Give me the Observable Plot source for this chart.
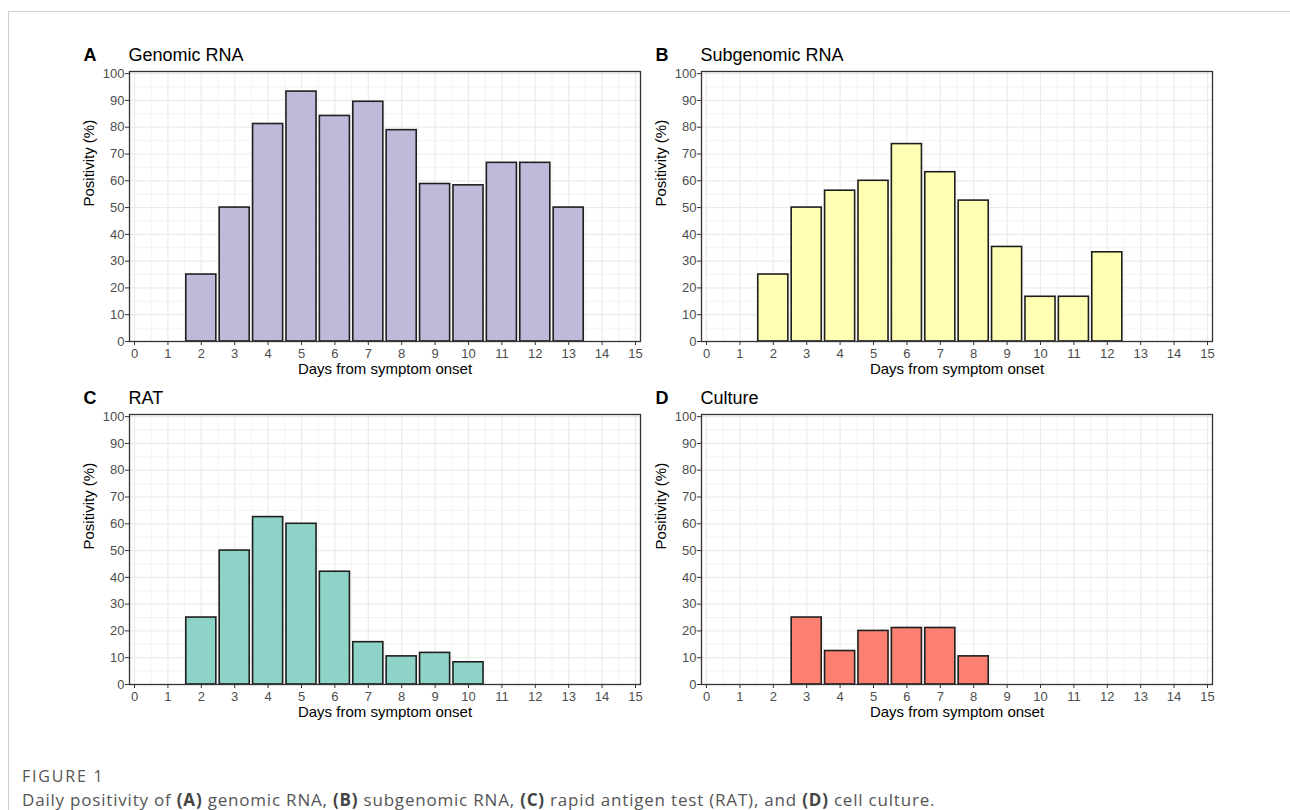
<!DOCTYPE html>
<html>
<head>
<meta charset="utf-8">
<script src="https://cdn.jsdelivr.net/npm/d3@7"></script>
<script src="https://cdn.jsdelivr.net/npm/@observablehq/plot@0.6"></script>
<style>
  html, body { margin: 0; padding: 0; background: #fff; }
  #fig { position: relative; width: 1290px; height: 810px; overflow: hidden; background: #fff; }
  .panel { position: absolute; }
  .panel svg text { font-family: 'Liberation Sans', Arial, Helvetica, sans-serif; }
  .panel svg g[aria-label="x-axis tick label"], .panel svg g[aria-label="y-axis tick label"] { font-size: 13px; font-variant-numeric: normal; }
  #topline { position: absolute; left: 9px; top: 11px; width: 1281px; height: 0; border-top: 1.5px solid #cfcfcf; }
  #leftline { position: absolute; left: 8px; top: 11px; width: 0; height: 800px; border-left: 1.5px solid #cfcfcf; }
  #figlabel { position: absolute; left: 22px; top: 766px; font-family: "Open Sans", sans-serif; font-size: 16px; line-height: 20px; color: #555; letter-spacing: 1.8px; }
  #caption { position: absolute; left: 22px; top: 790px; font-family: "Open Sans", sans-serif; font-size: 17px; line-height: 19px; color: #555; white-space: nowrap; letter-spacing: 0.8px; }
  #caption b { color: #444; }
</style>
</head>
<body>
<div id="fig">
  <div id="topline"></div>
  <div id="leftline"></div>
  <div id="figlabel">FIGURE 1</div>
  <div id="caption">Daily positivity of <b>(A)</b> genomic RNA, <b>(B)</b> subgenomic RNA, <b>(C)</b> rapid antigen test (RAT), and <b>(D)</b> cell culture.</div>
</div>
<script>
// ---- data ----
const panelLetters = ["A", "B", "C", "D"];
const panelTitles = ["Genomic RNA", "Subgenomic RNA", "RAT", "Culture"];
const panelColors = ["#BEBADA", "#FFFFB3", "#8DD3C7", "#FB8072"];

const genomicDays = [2, 3, 4, 5, 6, 7, 8, 9, 10, 11, 12, 13];
const genomic = [25, 50, 81.2, 93.3, 84.2, 89.5, 78.9, 58.8, 58.3, 66.7, 66.7, 50];

const subgenomicDays = [2, 3, 4, 5, 6, 7, 8, 9, 10, 11, 12];
const subgenomic = [25, 50, 56.3, 60, 73.7, 63.2, 52.6, 35.3, 16.7, 16.7, 33.3];

const ratDays = [2, 3, 4, 5, 6, 7, 8, 9, 10];
const rat = [25, 50, 62.5, 60, 42.1, 15.8, 10.5, 11.8, 8.3];

const cultureDays = [3, 4, 5, 6, 7, 8];
const culture = [25, 12.5, 20, 21.1, 21.1, 10.5];

const xTicks = [0, 1, 2, 3, 4, 5, 6, 7, 8, 9, 10, 11, 12, 13, 14, 15];
const yTicks = [0, 10, 20, 30, 40, 50, 60, 70, 80, 90, 100];
const xMinor = [0.5, 1.5, 2.5, 3.5, 4.5, 5.5, 6.5, 7.5, 8.5, 9.5, 10.5, 11.5, 12.5, 13.5, 14.5];
const yMinor = [5, 15, 25, 35, 45, 55, 65, 75, 85, 95];
const xLabel = "Days from symptom onset";
const yLabel = "Positivity (%)";

const series = [
  [genomicDays, genomic],
  [subgenomicDays, subgenomic],
  [ratDays, rat],
  [cultureDays, culture]
];

// panel placement (px)
const positions = [
  {left: 60, top: 40},
  {left: 632, top: 40},
  {left: 60, top: 383},
  {left: 632, top: 383}
];

const fig = document.getElementById("fig");
const font = "'Liberation Sans', Arial, Helvetica, sans-serif";

series.forEach(([days, vals], i) => {
  const data = days.map((d, j) => ({day: d, value: vals[j]}));
  const chart = Plot.plot({
    width: 590,
    height: 345,
    marginLeft: 69,
    marginRight: 10,
    marginTop: 31,
    marginBottom: 44,
    style: {fontFamily: font, fontSize: "13px", background: "transparent", overflow: "visible"},
    x: {domain: [-0.15, 15.15], ticks: xTicks},
    y: {domain: [0, 100.8], ticks: yTicks},
    marks: [
      Plot.gridX(xMinor, {stroke: "#ebebeb", strokeOpacity: 1, strokeWidth: 0.6}),
      Plot.gridY(yMinor, {stroke: "#ebebeb", strokeOpacity: 1, strokeWidth: 0.6}),
      Plot.gridX(xTicks, {stroke: "#ebebeb", strokeOpacity: 1, strokeWidth: 1.2}),
      Plot.gridY(yTicks, {stroke: "#ebebeb", strokeOpacity: 1, strokeWidth: 1.2}),
      Plot.rectY(data, {
        x1: d => d.day - 0.45,
        x2: d => d.day + 0.45,
        y: "value",
        fill: panelColors[i],
        stroke: "#1f1f1f",
        strokeWidth: 1.6
      }),
      Plot.frame({stroke: "#333333", strokeWidth: 1.3}),
      Plot.axisX(xTicks, {label: null, tickSize: 4, tickPadding: 3, stroke: "#333333", fill: "#4d4d4d", fontSize: 13}),
      Plot.axisY(yTicks, {label: null, tickSize: 4, tickPadding: 1, stroke: "#333333", fill: "#4d4d4d", fontSize: 13}),
      Plot.text([xLabel], {frameAnchor: "bottom", dy: 28, lineAnchor: "middle", fontSize: 15, fill: "#000"}),
      Plot.text([yLabel], {frameAnchor: "left", dx: -40, rotate: -90, lineAnchor: "middle", fontSize: 15, fill: "#000"}),
      Plot.text([panelLetters[i]], {frameAnchor: "top-left", dx: -46, dy: -11, textAnchor: "start", lineAnchor: "bottom", fontSize: 18, fontWeight: "bold", fill: "#000"}),
      Plot.text([panelTitles[i]], {frameAnchor: "top-left", dx: -1, dy: -11, textAnchor: "start", lineAnchor: "bottom", fontSize: 18, fill: "#000"})
    ]
  });
  const wrap = document.createElement("div");
  wrap.className = "panel";
  wrap.style.left = positions[i].left + "px";
  wrap.style.top = positions[i].top + "px";
  wrap.appendChild(chart);
  fig.appendChild(wrap);
});
</script>
</body>
</html>
